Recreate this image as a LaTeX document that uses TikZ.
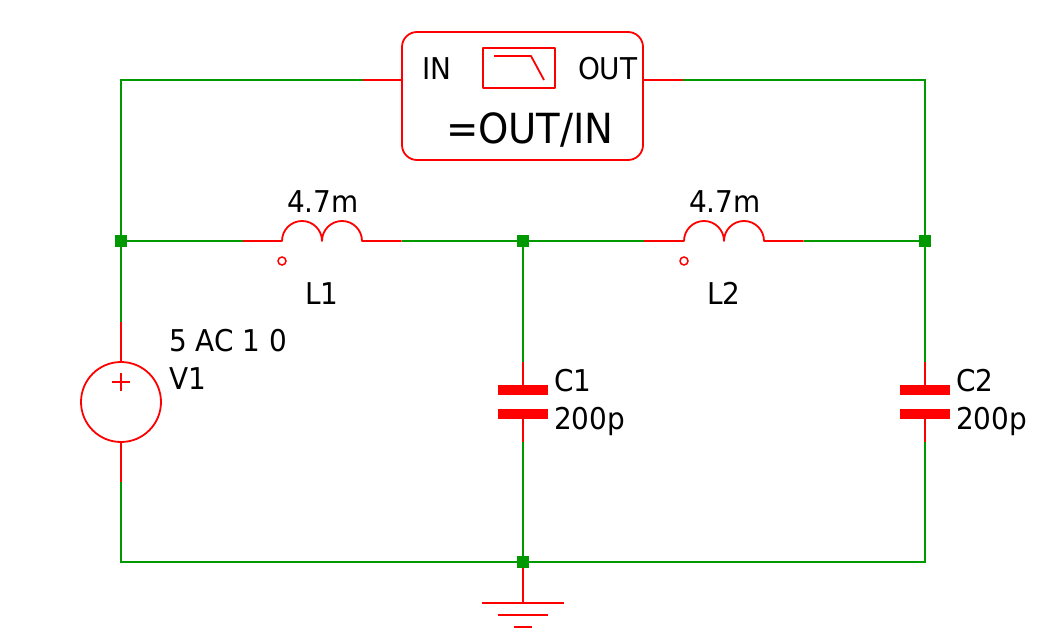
\documentclass[tikz,border=0pt]{standalone}
\usepackage{fontspec}
\setmainfont{DejaVu Sans}[FakeStretch=0.93]
\definecolor{wiregreen}{RGB}{0,153,0}
\begin{document}
\begin{tikzpicture}[x=1pt,y=-1pt,
  wire/.style={draw=wiregreen,line width=1.8pt,line cap=butt,line join=miter},
  sym/.style={draw=red,line width=1.8pt,line cap=butt,line join=round},
  plate/.style={fill=red,draw=none,minimum width=50pt,minimum height=10pt,inner sep=0pt,outer sep=0pt},
  junction/.style={fill=wiregreen,draw=none,minimum size=12pt,inner sep=0pt,outer sep=0pt},
  lab/.style={anchor=base west,inner sep=0pt,outer sep=0pt,text=black,font=\fontsize{30}{32}\selectfont},
  biglab/.style={anchor=base west,inner sep=0pt,outer sep=0pt,text=black,font=\fontsize{41.5}{44}\selectfont}]
\useasboundingbox (0,0) rectangle (1047,642);
\fill[white] (0,0) rectangle (1047,642);
% anchor points
\coordinate (TL) at (121,80);
\coordinate (TR) at (925,80);
\coordinate (BL) at (121,562);
\coordinate (BR) at (925,562);
\coordinate (Vtop) at (121,322);
\coordinate (Vbot) at (121,482);
\coordinate (Fin) at (363,80);
\coordinate (Fout) at (683,80);
\coordinate (L1a) at (243,241);
\coordinate (L1b) at (402,241);
\coordinate (L2a) at (644,241);
\coordinate (L2b) at (804,241);
\coordinate (C1t) at (523,362);
\coordinate (C1b) at (523,442);
\coordinate (C2t) at (925,362);
\coordinate (C2b) at (925,442);
\coordinate (Gt) at (523,603);
% junctions
\node[junction] (J1) at (121,241) {};
\node[junction] (J2) at (523,241) {};
\node[junction] (J3) at (925,241) {};
\node[junction] (J4) at (523,562) {};
% wires
\draw[wire] (Vtop) -- (J1.center) -- (TL) -- (Fin);
\draw[wire] (Fout) -- (TR) -- (J3.center) -- (C2t);
\draw[wire] (J1.center) -- (L1a);
\draw[wire] (L1b) -- (J2.center) -- (L2a);
\draw[wire] (L2b) -- (J3.center);
\draw[wire] (J2.center) -- (C1t);
\draw[wire] (C1b) -- (J4.center);
\draw[wire] (Vbot) -- (BL) -- (J4.center) -- (BR) -- (C2b);
% filter block
\node[sym,rounded corners=15pt,minimum width=241pt,minimum height=128pt,inner sep=0pt,outer sep=0pt,anchor=north west] (F) at (402,32) {};
\draw[sym] (Fin) -- (F.west |- Fin);
\draw[sym] (F.east |- Fout) -- (Fout);
\node[sym,minimum width=72pt,minimum height=40pt,inner sep=0pt,outer sep=0pt,anchor=north west] (Ficon) at (483,48) {};
\draw[sym] (494,56) -- (531,56) -- (544,80);
\node[lab] (tIN) at (422,80) {IN};
\node[lab] (tOUT) at (578,80) {OUT};
\node[biglab] (tExpr) at (446,143) {=OUT/IN};
% inductors
\foreach \n/\a/\xs in {1/L1a/282,2/L2a/684}{
  \draw[sym] (\a) -- (\xs,241) arc[start angle=180,end angle=0,radius=20pt] arc[start angle=180,end angle=0,radius=20pt] -- ++(39.5,0);
  \node[draw=red,line width=1.5pt,circle,minimum size=8pt,inner sep=0pt,outer sep=0pt,fill=white] (dot\n) at (\xs,261) {};
}
\node[lab] (L1v) at (287,212) {4.7m};
\node[lab] (L1n) at (305,304) {L1};
\node[lab] (L2v) at (689,212) {4.7m};
\node[lab] (L2n) at (707,304) {L2};
% source
\node[sym,circle,minimum size=80pt,inner sep=0pt,outer sep=0pt] (V) at (121,402) {};
\draw[sym] (Vtop) -- (V.north);
\draw[sym] (V.south) -- (Vbot);
\draw[sym] (112,382) -- (130,382) (121,373) -- (121,391);
\node[lab] (Vv) at (169,351) {5 AC 1 0};
\node[lab] (Vn) at (169,389) {V1};
% capacitors
\node[plate] (C1p) at (523,390) {};
\node[plate] (C1q) at (523,414) {};
\draw[sym] (C1t) -- (C1p.north);
\draw[sym] (C1q.south) -- (C1b);
\node[lab] (C1n) at (554,391) {C1};
\node[lab] (C1v) at (554,429) {200p};
\node[plate] (C2p) at (925,390) {};
\node[plate] (C2q) at (925,414) {};
\draw[sym] (C2t) -- (C2p.north);
\draw[sym] (C2q.south) -- (C2b);
\node[lab] (C2n) at (956,391) {C2};
\node[lab] (C2v) at (956,429) {200p};
% ground
\draw[sym] (J4.south) -- (Gt);
\draw[sym] (482,603) -- (564,603);
\draw[sym] (498,615) -- (548,615);
\draw[sym] (514,627) -- (532,627);
\end{tikzpicture}
\end{document}
